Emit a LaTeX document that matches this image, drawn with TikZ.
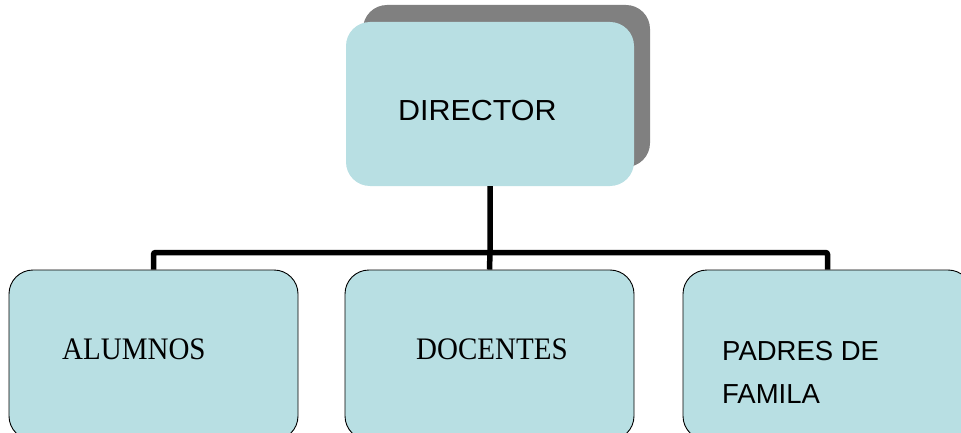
\documentclass[tikz,border=0pt]{standalone}
\usepackage{fontspec}
\setmainfont{Liberation Serif}
\newfontfamily\arialf{Liberation Sans}
\definecolor{boxfill}{RGB}{184,223,227}
\definecolor{shadowgray}{RGB}{128,128,128}
\begin{document}
\begin{tikzpicture}[x=1pt,y=-1pt,
  orgbox/.style={fill=boxfill, rounded corners=24pt, minimum width=289pt, minimum height=170pt, inner sep=0pt},
  botbox/.style={orgbox, draw=black, line width=0.9pt},
  conn/.style={line width=5.5pt, rounded corners=2pt},
  sanslabel/.style={anchor=base west, inner sep=0pt, font=\arialf\fontsize{27.5}{43}\selectfont, align=left},
  seriflabel/.style={anchor=base west, inner sep=0pt, font=\fontsize{29}{34}\selectfont}]
\useasboundingbox (0,0) rectangle (961,433);
\clip (0,0) rectangle (961,433);
% director shadow and box
\node[orgbox, fill=shadowgray, minimum width=287pt, minimum height=162pt] (dirshadow) at (506.5,86) {};
\node[orgbox, minimum width=288pt, minimum height=164pt] (dir) at (490,104) {};
% bottom boxes
\node[botbox] (alu) at (153.5,355) {};
\node[botbox] (doc) at (489.5,355) {};
\node[botbox] (pad) at (827.5,355) {};
% connectors
\coordinate (bar) at (490,252.5);
\draw[conn] (dir.south) -- (bar) -- (doc.north);
\draw[conn] (alu.north) |- (bar) -| (pad.north);
% labels
\node[sanslabel, font=\arialf\fontsize{29}{34}\selectfont] (dirtext) at (398,121) {\scalebox{1.05}[1]{DIRECTOR}};
\node[seriflabel] (alutext) at (62,359) {\scalebox{1}[1.08]{ALUMNOS}};
\node[seriflabel] (doctext) at (416,359) {\scalebox{1}[1.08]{DOCENTES}};
\node[sanslabel] (padtext) at (722,403) {PADRES DE\\FAMILA};
\end{tikzpicture}
\end{document}
